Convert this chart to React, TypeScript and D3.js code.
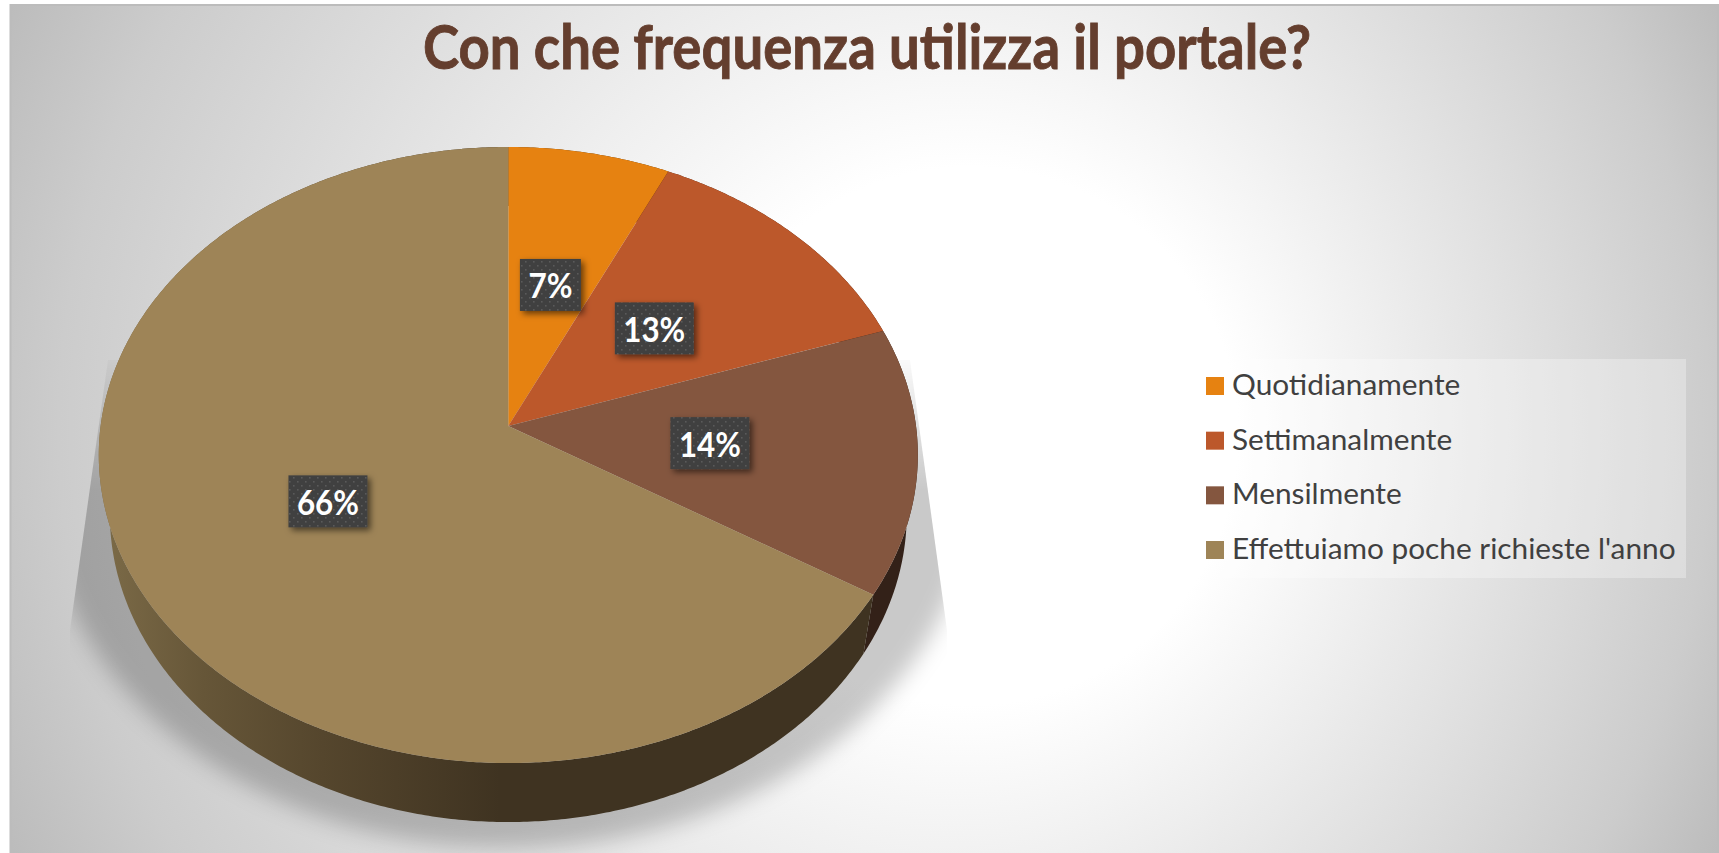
import React from "react";
import * as d3 from "d3";

const categories = ["Quotidianamente", "Settimanalmente", "Mensilmente", "Effettuiamo poche richieste l'anno"];
const values = [7.0, 12.8, 14.0, 66.2];
const colors = ["#e68211", "#bc582b", "#84563f", "#9e8457"];
const titleText = "Con che frequenza utilizza il portale?";

const W = 1719, H = 853;
const cx = 508.3, cy = 426, A = 305.3, B = 407.7, K = 0.0942;
const DEPTH = 59, RIM = 0.973, LABEL_R = 0.495;

type P = [number, number];
const project = (a: number, r = 1): P => {
  const u = Math.sin(a) * r, v = -Math.cos(a) * r, d = 1 - K * v;
  return [cx + (B * u) / d, cy + (A * v) / d];
};
const lower = ([x, y]: P): P => [cx + (x - cx) * RIM, y + DEPTH];
const arcPts = (a0: number, a1: number): P[] => {
  const n = Math.max(2, Math.ceil(((a1 - a0) * 180) / Math.PI) * 2);
  return d3.range(n + 1).map((i) => project(a0 + ((a1 - a0) * i) / n));
};
const line = d3.line<P>();
const pie = d3.pie<number>().sort(null)(values);

const legendY = d3.scalePoint<string>().domain(categories).range([386, 550]);

export default function App() {
  return (
    <svg width={W} height={H} viewBox={`0 0 ${W} ${H}`} style={{ position: "fixed", left: 0, top: 0, display: "block", background: "#fff" }}>
      <defs>
        <radialGradient id="bg" gradientUnits="userSpaceOnUse" cx={864} cy={426} r={960} fx={1010} fy={440}>
          <stop offset="0" stopColor="#ffffff" />
          <stop offset="0.28" stopColor="#ffffff" />
          <stop offset="0.86" stopColor="#cccccc" />
          <stop offset="1" stopColor="#bbbbbb" />
        </radialGradient>
        <linearGradient id="wall" gradientUnits="userSpaceOnUse" x1={105} x2={500} y1={0} y2={0}>
          <stop offset="0" stopColor="#7b6a47" />
          <stop offset="0.25" stopColor="#665638" />
          <stop offset="0.55" stopColor="#55462d" />
          <stop offset="1" stopColor="#3f3321" />
        </linearGradient>
        <linearGradient id="fade" gradientUnits="userSpaceOnUse" x1={0} x2={0} y1={345} y2={490}>
          <stop offset="0" stopColor="#000" />
          <stop offset="1" stopColor="#fff" />
        </linearGradient>
        <mask id="shadowMask" maskUnits="userSpaceOnUse" x={0} y={0} width={W} height={H}>
          <rect width={W} height={H} fill="url(#fade)" />
        </mask>
        <filter id="blur" x="-20%" y="-20%" width="140%" height="140%">
          <feGaussianBlur stdDeviation="11" />
        </filter>
        <filter id="lab" x="-30%" y="-30%" width="170%" height="170%">
          <feDropShadow dx="3" dy="3" stdDeviation="3" floodColor="#000" floodOpacity="0.55" />
        </filter>
        <clipPath id="shadowClip">
          <path d="M108,360 L70,630 L70,853 L952,853 L947,630 L910,360 Z" />
        </clipPath>
        <pattern id="dots" width="8" height="8" patternUnits="userSpaceOnUse">
          <rect width="8" height="8" fill="#404040" />
          <rect x="1" y="1" width="1.6" height="1.6" fill="#5a5a5a" />
          <rect x="5" y="5" width="1.6" height="1.6" fill="#5a5a5a" />
        </pattern>
      </defs>

      <rect x={10.5} y={5} width={1707.5} height={852} fill="url(#bg)" stroke="#bcbcbc" strokeWidth={2} />

      <text x={867} y={69} textAnchor="middle" fontFamily="Lato" fontWeight={700} fontSize={61} fill="#643e2e" stroke="#643e2e" strokeWidth={0.9} textLength={888} lengthAdjust="spacingAndGlyphs">
        {titleText}
      </text>

      <g clipPath="url(#shadowClip)" mask="url(#shadowMask)">
        <ellipse cx={cx} cy={482} rx={465} ry={366} fill="#000" fillOpacity={0.21} filter="url(#blur)" />
      </g>

      {pie.map((s, i) => {
        const top = arcPts(s.startAngle, s.endAngle);
        const pts = [...top, ...top.slice().reverse().map(lower)];
        return <path key={i} d={(line(pts) ?? "") + "Z"} fill={i === 3 ? "url(#wall)" : d3.color(colors[i])!.darker(2.67).formatHex()} />;
      })}

      {pie.map((s, i) => (
        <path key={i} d={(line([[cx, cy], ...arcPts(s.startAngle, s.endAngle)]) ?? "") + "Z"} fill={colors[i]} />
      ))}

      {pie.map((s, i) => {
        const [x, y] = project((s.startAngle + s.endAngle) / 2, LABEL_R);
        const label = `${Math.round(values[i])}%`;
        const w = 25 + 18 * label.length;
        return (
          <g key={i}>
            <rect x={x - w / 2} y={y - 26} width={w} height={52} fill="url(#dots)" filter="url(#lab)" />
            <text x={x} y={y + 13.5} textAnchor="middle" fontFamily="Lato" fontWeight={700} fontSize={34} fill="#fff" textLength={w - 17} lengthAdjust="spacingAndGlyphs">
              {label}
            </text>
          </g>
        );
      })}

      <rect x={1195} y={359} width={491} height={219} fill="#fff" fillOpacity={0.3} />
      {categories.map((c, i) => {
        const y = legendY(c)!;
        return (
          <g key={c}>
            <rect x={1206} y={y - 9} width={18} height={18} fill={colors[i]} />
            <text x={1232} y={y + 9} fontFamily="Lato" fontSize={29.8} fill="#404040">
              {c}
            </text>
          </g>
        );
      })}
    </svg>
  );
}
